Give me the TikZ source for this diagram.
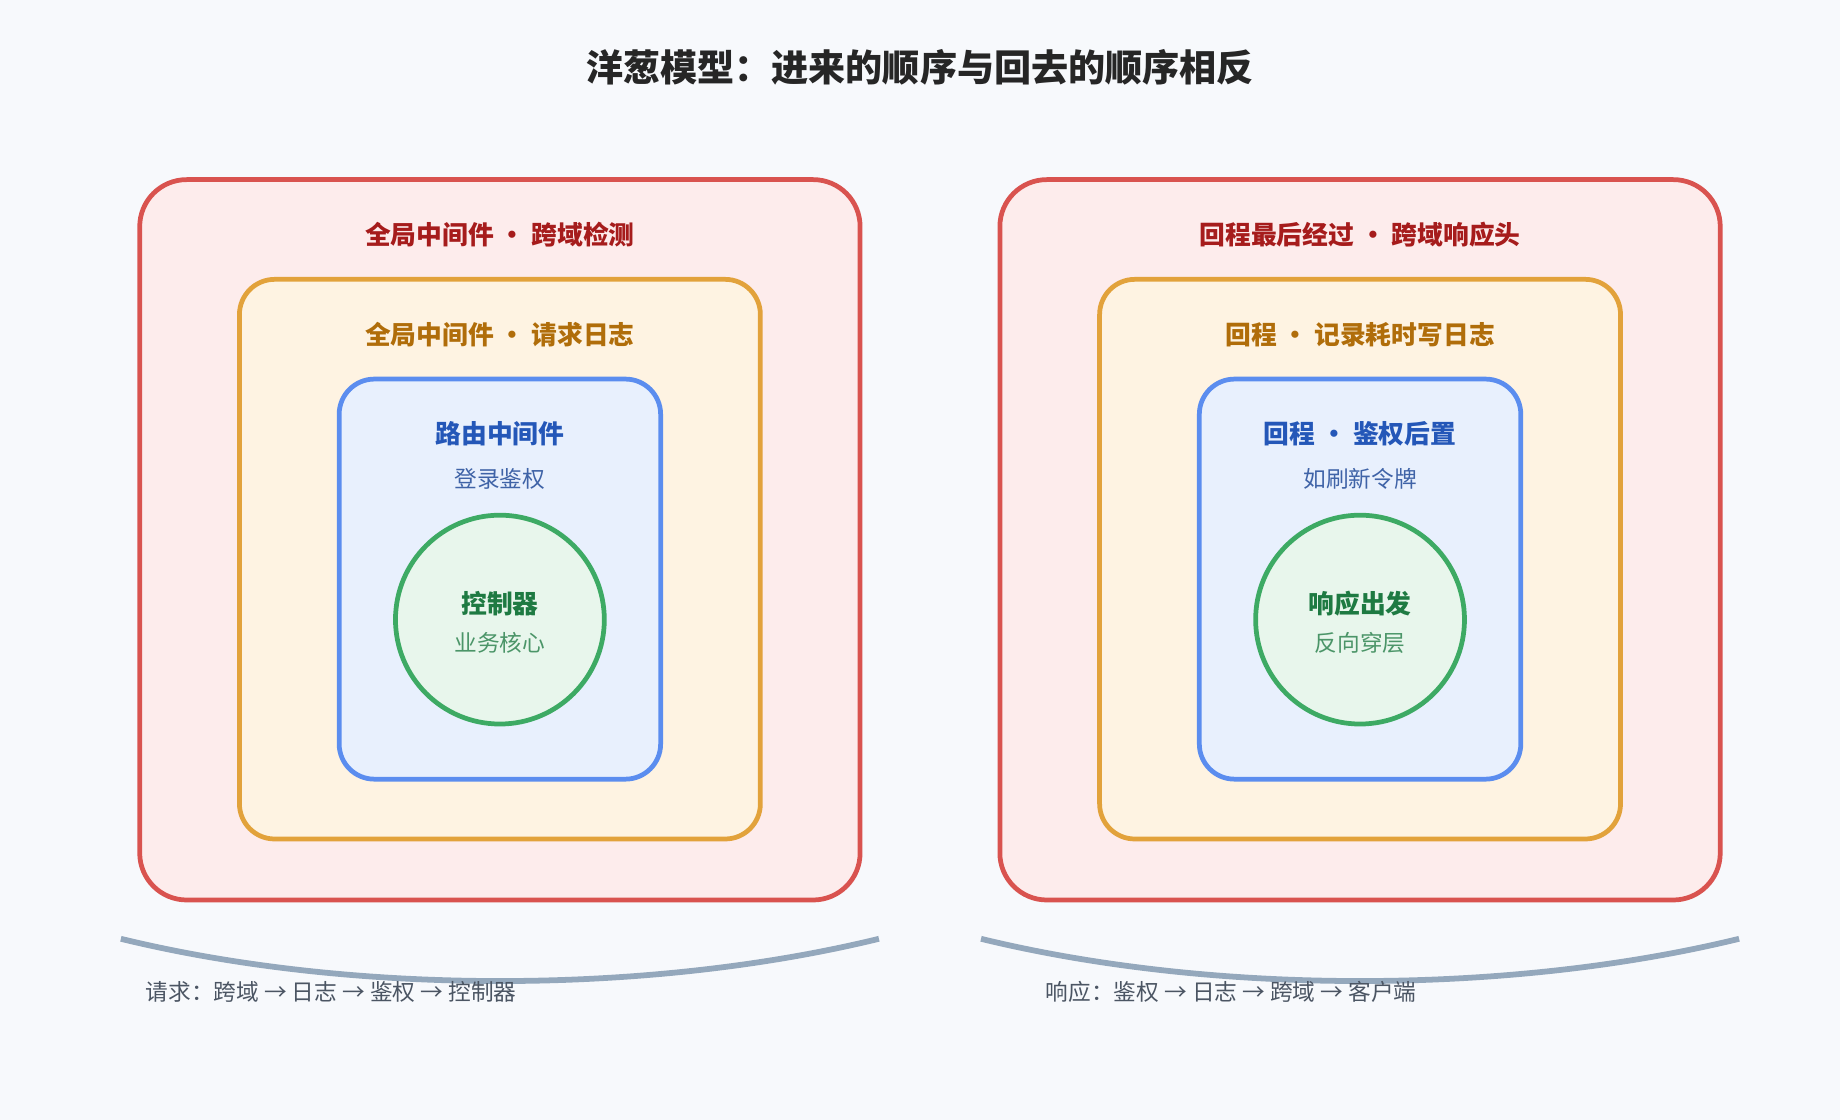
\documentclass[tikz,border=0pt]{standalone}
\usepackage{fontspec}
\setmainfont{Noto Sans CJK SC}
\usepackage{xcolor}
\definecolor{bgpage}{HTML}{F7F9FC}
\definecolor{mred}{HTML}{D9534F}
\definecolor{mredfill}{HTML}{FDECEC}
\definecolor{mredtext}{HTML}{A61C1C}
\definecolor{morange}{HTML}{E2A23B}
\definecolor{morangefill}{HTML}{FEF3E2}
\definecolor{morangetext}{HTML}{B06D0A}
\definecolor{mblue}{HTML}{5B8DEF}
\definecolor{mbluefill}{HTML}{E8F0FD}
\definecolor{mbluetext}{HTML}{2457B8}
\definecolor{mgreen}{HTML}{3DAA64}
\definecolor{mgreenfill}{HTML}{E8F6EC}
\definecolor{mgreentext}{HTML}{1E7A42}
\definecolor{marc}{HTML}{94A8BC}
\definecolor{mgrey}{HTML}{4B5563}

\begin{document}
\begin{tikzpicture}[
    x=0.02cm, y=-0.02cm,
    layer/.style={draw, line width=2.3pt, rounded corners=0.8cm, inner sep=0pt},
    core/.style={draw, circle, line width=2.3pt, minimum size=3.56cm, inner sep=0pt},
    head/.style={font=\bfseries\fontsize{12.5}{14}\selectfont},
    sub/.style={font=\fontsize{11}{13}\selectfont},
    flow/.style={marc, line width=2.8pt}]

% Page
\fill[bgpage] (0,0) rectangle (1568,954);
\useasboundingbox (0,0) rectangle (1568,954);

\node[font=\bfseries\fontsize{18}{21}\selectfont, text=black!85] (title) at (784,57) {洋葱模型：进来的顺序与回去的顺序相反};

% Left onion
\node[layer, mred, fill=mredfill, minimum width=12.28cm, minimum height=12.28cm] (outerL) at (426,460) {};
\node[layer, morange, fill=morangefill, minimum width=8.88cm, minimum height=9.54cm, rounded corners=0.6cm] (midL) at (426,476.5) {};
\node[layer, mblue, fill=mbluefill, minimum width=5.48cm, minimum height=6.82cm, rounded corners=0.6cm] (innerL) at (426,493.5) {};
\node[core, mgreen, fill=mgreenfill] (coreL) at (426,528) {};
\node[head, text=mredtext] (outerLlabel) at (426,200) {全局中间件 • 跨域检测};
\node[head, text=morangetext] (midLlabel) at (426,285) {全局中间件 • 请求日志};
\node[head, text=mbluetext] (innerLlabel) at (426,370) {路由中间件};
\node[sub, text=mbluetext!70!gray] (innerLsub) at (426,408) {登录鉴权};
\node[head, text=mgreentext] (coreLlabel) at (426,514) {控制器};
\node[sub, text=mgreentext!80] (coreLsub) at (426,548) {业务核心};

% Right onion
\node[layer, mred, fill=mredfill, minimum width=12.28cm, minimum height=12.28cm] (outerR) at (1159,460) {};
\node[layer, morange, fill=morangefill, minimum width=8.88cm, minimum height=9.54cm, rounded corners=0.6cm] (midR) at (1159,476.5) {};
\node[layer, mblue, fill=mbluefill, minimum width=5.48cm, minimum height=6.82cm, rounded corners=0.6cm] (innerR) at (1159,493.5) {};
\node[core, mgreen, fill=mgreenfill] (coreR) at (1159,528) {};
\node[head, text=mredtext] (outerRlabel) at (1159,200) {回程最后经过 • 跨域响应头};
\node[head, text=morangetext] (midRlabel) at (1159,285) {回程 • 记录耗时写日志};
\node[head, text=mbluetext] (innerRlabel) at (1159,370) {回程 • 鉴权后置};
\node[sub, text=mbluetext!70!gray] (innerRsub) at (1159,408) {如刷新令牌};
\node[head, text=mgreentext] (coreRlabel) at (1159,514) {响应出发};
\node[sub, text=mgreentext!80] (coreRsub) at (1159,548) {反向穿层};

% Flow arcs
\coordinate (arcLa) at (103,800);
\coordinate (arcLb) at (749,800);
\coordinate (arcRa) at (836,800);
\coordinate (arcRb) at (1482,800);
\draw[flow] (arcLa) .. controls (300,848) and (552,848) .. (arcLb);
\draw[flow] (arcRa) .. controls (1033,848) and (1285,848) .. (arcRb);
\node[sub, text=mgrey, anchor=west] (reqflow) at (118,845) {请求：跨域 → 日志 → 鉴权 → 控制器};
\node[sub, text=mgrey, anchor=west] (resflow) at (885,845) {响应：鉴权 → 日志 → 跨域 → 客户端};

\end{tikzpicture}
\end{document}
